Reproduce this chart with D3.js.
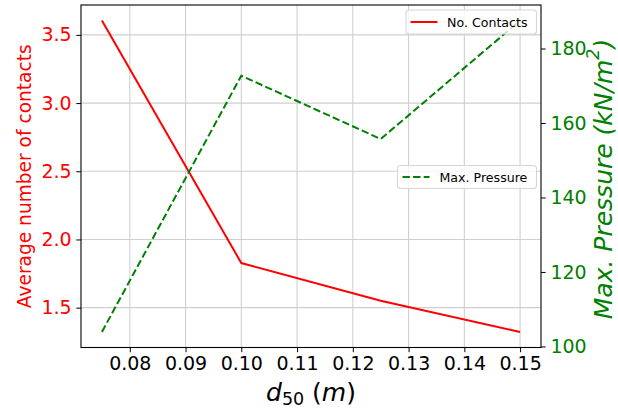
<!DOCTYPE html>
<html>
<head>
<meta charset="utf-8">
<script src="https://cdn.jsdelivr.net/npm/d3@7"></script>
<style>
  html, body { margin: 0; padding: 0; background: #fff; }
  svg { display: block; font-family: "DejaVu Sans", sans-serif; }
</style>
</head>
<body>
<script>
// ---- data ----
const d50 = [0.075, 0.10, 0.125, 0.15];
const contacts = [3.605, 1.827, 1.55, 1.322];
const pressure = [103.9, 172.7, 155.7, 187.5];
const xTicks = [0.08, 0.09, 0.10, 0.11, 0.12, 0.13, 0.14, 0.15];
const leftTicks = [1.5, 2.0, 2.5, 3.0, 3.5];
const rightTicks = [100, 120, 140, 160, 180];

const W = 618, H = 411;
const L = 81, R = 541, T = 5, B = 347.5;
const RED = "#ff0000", GREEN = "#008000";

function padDomain(arr) {
  const lo = d3.min(arr), hi = d3.max(arr), m = (hi - lo) * 0.05;
  return [lo - m, hi + m];
}

const x = d3.scaleLinear().domain(padDomain(d50)).range([L, R]);
const yL = d3.scaleLinear().domain(padDomain(contacts)).range([B, T]);
const yR = d3.scaleLinear().domain(padDomain(pressure)).range([B, T]);

const svg = d3.select("body").append("svg").attr("width", W).attr("height", H);

// grid
const grid = svg.append("g").attr("stroke", "#cfcfcf").attr("stroke-width", 1.1);
grid.selectAll(".gx").data(xTicks).join("line")
  .attr("x1", d => x(d)).attr("x2", d => x(d)).attr("y1", T).attr("y2", B);
grid.selectAll(".gy").data(leftTicks).join("line")
  .attr("y1", d => yL(d)).attr("y2", d => yL(d)).attr("x1", L).attr("x2", R);

// axes
const xAxis = svg.append("g").attr("transform", `translate(0,${B})`)
  .call(d3.axisBottom(x).tickValues(xTicks).tickFormat(d3.format(".2f")).tickSize(4.7).tickPadding(4.7));
const lAxis = svg.append("g").attr("transform", `translate(${L},0)`)
  .call(d3.axisLeft(yL).tickValues(leftTicks).tickFormat(d3.format(".1f")).tickSize(4.7).tickPadding(4.7));
const rAxis = svg.append("g").attr("transform", `translate(${R},0)`)
  .call(d3.axisRight(yR).tickValues(rightTicks).tickFormat(d3.format("d")).tickSize(4.7).tickPadding(4.7));

[xAxis, lAxis, rAxis].forEach(a => {
  a.select(".domain").remove();
  a.selectAll("text").attr("font-family", "DejaVu Sans").attr("font-size", 19);
});
xAxis.selectAll("line").attr("stroke", "#000");
xAxis.selectAll("text").attr("fill", "#000");
lAxis.selectAll("line").attr("stroke", "#000");
lAxis.selectAll("text").attr("fill", RED);
rAxis.selectAll("line").attr("stroke", "#000");
rAxis.selectAll("text").attr("fill", GREEN);

// spines
svg.append("rect").attr("x", L).attr("y", T).attr("width", R - L).attr("height", B - T)
  .attr("fill", "none").attr("stroke", "#000").attr("stroke-width", 1.1);

// lines
const lineL = d3.line().x((d, i) => x(d50[i])).y(d => yL(d));
const lineR = d3.line().x((d, i) => x(d50[i])).y(d => yR(d));
svg.append("path").datum(contacts).attr("d", lineL)
  .attr("fill", "none").attr("stroke", RED).attr("stroke-width", 2);
svg.append("path").datum(pressure).attr("d", lineR)
  .attr("fill", "none").attr("stroke", GREEN).attr("stroke-width", 2)
  .attr("stroke-dasharray", "7.4,3.2");

// axis labels
svg.append("text")
  .attr("transform", `translate(24,${(T + B) / 2}) rotate(-90)`)
  .attr("text-anchor", "middle").attr("dominant-baseline", "central")
  .attr("font-size", 18.6).attr("fill", RED)
  .text("Average number of contacts");

const rl = svg.append("text")
  .attr("transform", `translate(603,179) rotate(-90)`)
  .attr("text-anchor", "middle").attr("dominant-baseline", "central")
  .attr("font-size", 25).attr("fill", GREEN).attr("font-style", "italic");
rl.append("tspan").text("Max. Pressure (kN/m");
rl.append("tspan").attr("font-size", 17.5).attr("dy", -10).text("2");
rl.append("tspan").attr("dy", 10).text(")");

const xl = svg.append("text")
  .attr("x", (L + R) / 2).attr("y", 401)
  .attr("text-anchor", "middle").attr("font-size", 25).attr("fill", "#000");
xl.append("tspan").attr("font-style", "italic").text("d");
xl.append("tspan").attr("font-size", 17.5).attr("dy", 4).text("50");
xl.append("tspan").attr("dy", -4).text(" (");
xl.append("tspan").attr("font-style", "italic").text("m");
xl.append("tspan").text(")");

// legends
function legend(x0, y0, w, h, label, color, dash, lineX0, textX) {
  const g = svg.append("g");
  g.append("rect").attr("x", x0).attr("y", y0).attr("width", w).attr("height", h)
    .attr("rx", 3).attr("fill", "#fff").attr("fill-opacity", 0.8)
    .attr("stroke", "#d6d6d6").attr("stroke-width", 1.1);
  const cy = y0 + h / 2;
  g.append("line").attr("x1", lineX0).attr("x2", lineX0 + 27).attr("y1", cy).attr("y2", cy)
    .attr("stroke", color).attr("stroke-width", 2)
    .attr("stroke-dasharray", dash ? "7.4,3.2" : null);
  g.append("text").attr("x", textX).attr("y", cy).attr("dominant-baseline", "central")
    .attr("font-size", 12.6).attr("fill", "#000").text(label);
}
legend(406, 10, 130.5, 24, "No. Contacts", RED, false, 410.5, 447);
legend(397.5, 165.5, 139, 23, "Max. Pressure", GREEN, true, 402.5, 439.5);
</script>
</body>
</html>
